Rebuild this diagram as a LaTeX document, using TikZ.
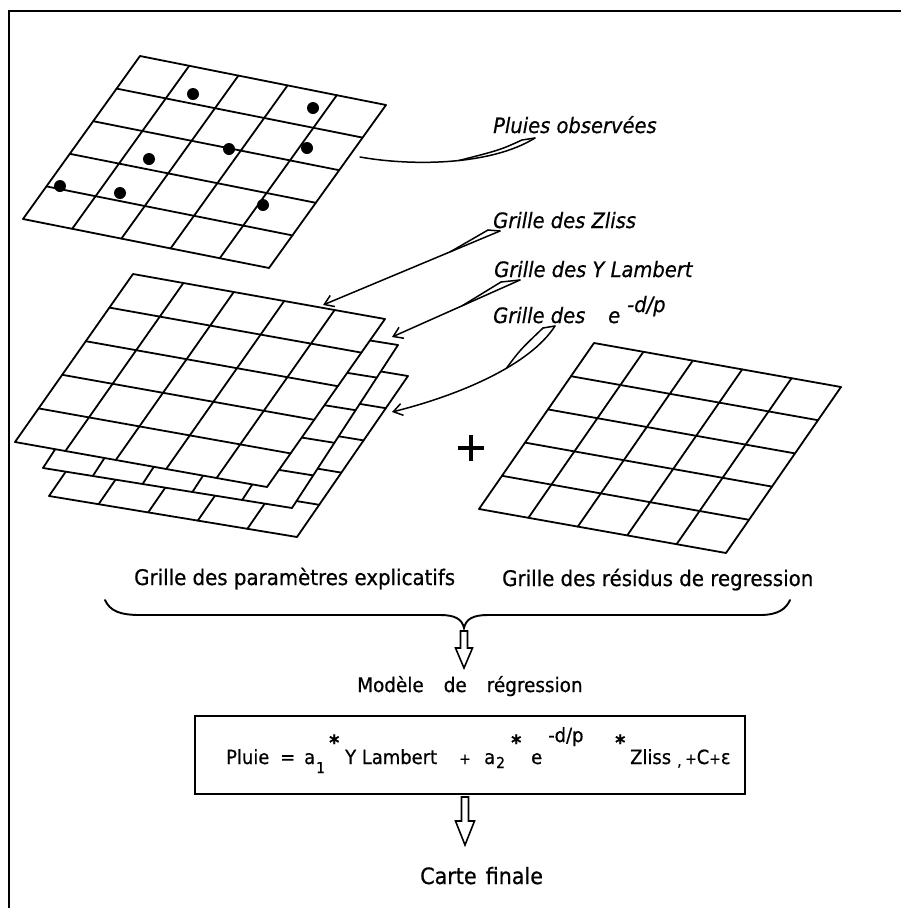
\documentclass[tikz,border=0pt]{standalone}
\usepackage{fontspec}
\setmainfont{DejaVu Sans}[FakeStretch=0.92,FakeBold=0.6]
\usetikzlibrary{calc,arrows.meta}
\newcommand\gridsheet[4]{%
  \coordinate (#4bl) at (#1);
  \coordinate (#4br) at (#2);
  \coordinate (#4tl) at (#3);
  \coordinate (#4tr) at ($(#4br)+(#4tl)-(#4bl)$);
  \filldraw[gridline,fill=white] (#4bl) -- (#4br) -- (#4tr) -- (#4tl) -- cycle;
  \foreach \k in {1,...,4}{
    \draw[gridline] ($(#4bl)!\k/5!(#4tl)$) -- ($(#4br)!\k/5!(#4tr)$);
    \draw[gridline] ($(#4bl)!\k/5!(#4br)$) -- ($(#4tl)!\k/5!(#4tr)$);
  }%
}
\begin{document}
\begin{tikzpicture}[x=1pt,y=-1pt,
  gridline/.style={line width=1.8pt,line join=round,line cap=round},
  lbl/.style={anchor=base west,inner sep=0pt,font=\fontsize{21.2}{24}\selectfont\itshape},
  txt/.style={anchor=base west,inner sep=0pt,font=\fontsize{21.5}{24}\selectfont},
  ftxt/.style={anchor=base west,inner sep=0pt,font=\fontsize{19.5}{22}\selectfont},
  fsmall/.style={anchor=base west,inner sep=0pt,font=\fontsize{15}{17}\selectfont},
  fstar/.style={anchor=base west,inner sep=0pt,font=\fontsize{21}{22}\selectfont\bfseries},
  conn/.style={line width=1.5pt,line cap=round,line join=round},
  barb/.style={-{Straight Barb[length=9pt,width=12pt]}},
  hollow/.style={line width=1.6pt,fill=white,line join=miter},
  dot/.style={fill=black}]
\useasboundingbox (0,0) rectangle (901,908);
\fill[white] (0,0) rectangle (901,908);
% frame
\draw[line width=1.8pt] (9,908) -- (9,11) -- (901,11);

% top grid with observations
\gridsheet{23,219}{269,268}{140,56}{ga}
\foreach \p in {(193,94),(313,108),(229,149),(307,148),(149,159),(60,186),(120,193),(263,205)}
  \fill[dot] \p circle[radius=6pt];

% stack of parameter grids
\gridsheet{49,496}{297,537}{160,335}{gd}
\gridsheet{43,468}{292,508}{149,305}{gc}
\gridsheet{15,442}{267,487}{133,274}{gb}

% residual grid
\gridsheet{479,509}{726,553}{594,343}{ge}

% plus sign
\draw[line width=3.5pt] (458,448) -- (484,448);
\draw[line width=3.5pt] (471,435) -- (471,461);

% labels
\node[lbl] (pluies) at (493,133) {Pluies observées};
\node[lbl] (zliss) at (493,228) {Grille des Zliss};
\node[lbl] (lambert) at (494,277) {Grille des Y Lambert};
\node[lbl] (edp) at (493,323) {Grille des};
\node[lbl] (ee) at (608,323) {e};
\node[lbl] (dp) at (627,312) {-d/p};

% connector targets on grids
\coordinate (g1) at (360,157);
\coordinate (g2) at (323,305);
\coordinate (g3) at (392,337);
\coordinate (g4) at (392,412);

% Pluies observees connector (no arrow head)
\coordinate (t1) at ($(pluies.base west)+(42,5)$);
\coordinate (c1) at ($(pluies.base west)+(29,7)$);
\draw[conn] (g1) .. controls (410,166) and (490,166) .. (t1) coordinate[pos=0.55] (m1);
\draw[conn] (c1) -- (t1);
\draw[conn] (c1) .. controls (500,150) .. (m1);

% Zliss
\coordinate (t2) at ($(zliss.base west)+(7,3)$);
\coordinate (c2) at ($(zliss.base west)+(-5,2)$);
\draw[conn,barb] (t2) -- (g2) coordinate[pos=0.28] (m2);
\draw[conn] (c2) -- (t2);
\draw[conn] (c2) -- (m2);

% Y Lambert
\coordinate (t3) at ($(lambert.base west)+(26,3)$);
\coordinate (c3) at ($(lambert.base west)+(7,5)$);
\draw[conn,barb] (t3) -- (g3) coordinate[pos=0.45] (m3);
\draw[conn] (c3) -- (t3);
\draw[conn] (c3) -- (m3);

% e^{-d/p}
\coordinate (t4) at ($(edp.base west)+(62,3)$);
\coordinate (c4) at ($(edp.base west)+(50,5)$);
\draw[conn,barb] (t4) .. controls (530,365) and (460,395) .. (g4) coordinate[pos=0.4] (m4);
\draw[conn] (c4) -- (t4);
\draw[conn] (c4) .. controls (520,350) .. (m4);

% bottom labels
\node[txt] (gpe) at (134,585) {Grille des paramètres explicatifs};
\node[txt] (gre) at (502,586) {Grille des résidus de regression};

% brace
\coordinate (bt) at (464,628);
\draw[line width=1.9pt,line cap=round]
  (105,600) .. controls (110,611) and (120,615) .. (140,615) -- (440,615)
  .. controls (455,615) and (462,619) .. (bt)
  .. controls (466,619) and (473,615) .. (488,615) -- (760,615)
  .. controls (778,615) and (786,609) .. (790,600);

% hollow arrow 1
\draw[hollow] ($(bt)+(-3.5,3)$) -- ++(0,17) -- ++(-5,0) -- ($(bt)+(0,40)$)
  -- ($(bt)+(8.5,20)$) -- ++(-5,0) -- ($(bt)+(3.5,3)$) -- cycle;

\node[anchor=base west,inner sep=0pt,font=\fontsize{20}{22}\selectfont] (model) at (357,692)
  {Modèle\hspace{20pt}de\hspace{20pt}régression};

% formula box
\node[draw,line width=2.5pt,minimum width=550pt,minimum height=78pt,inner sep=0pt] (box) at (470,755) {};
\node[ftxt] (f1) at (226,764) {Pluie};
\node[ftxt] (f2) at (280,764) {=};
\node[ftxt] (f3) at (304,764) {a};
\node[fsmall] (f4) at (316,773) {1};
\node[fstar] (f5) at (329,750) {*};
\node[ftxt] (f6) at (345,764) {Y Lambert};
\node[fsmall] (f7) at (459,764) {+};
\node[ftxt] (f8) at (484,764) {a};
\node[fsmall] (f9) at (496,768) {2};
\node[fstar] (f10) at (511,750) {*};
\node[ftxt] (f11) at (531,764) {e};
\node[ftxt] (f12) at (548,742) {-d/p};
\node[fstar] (f13) at (615,750) {*};
\node[ftxt] (f14) at (630,764) {Zliss};
\node[fsmall] (f15) at (677,766) {,};
\node[ftxt] (f16) at (685,764) {{\fontsize{15}{17}\selectfont+}C{\fontsize{15}{17}\selectfont+}ε};

% hollow arrow 2
\coordinate (bb) at (465,797);
\draw[hollow] ($(bb)+(-3.5,0)$) -- ++(0,24) -- ++(-6,0) -- ($(bb)+(0,48)$)
  -- ($(bb)+(9.5,24)$) -- ++(-6,0) -- ($(bb)+(3.5,0)$) -- cycle;

\node[anchor=base west,inner sep=0pt,font=\fontsize{22.5}{24}\selectfont] (carte) at (420,884)
  {Carte\hspace{9pt}finale};
\end{tikzpicture}
\end{document}
